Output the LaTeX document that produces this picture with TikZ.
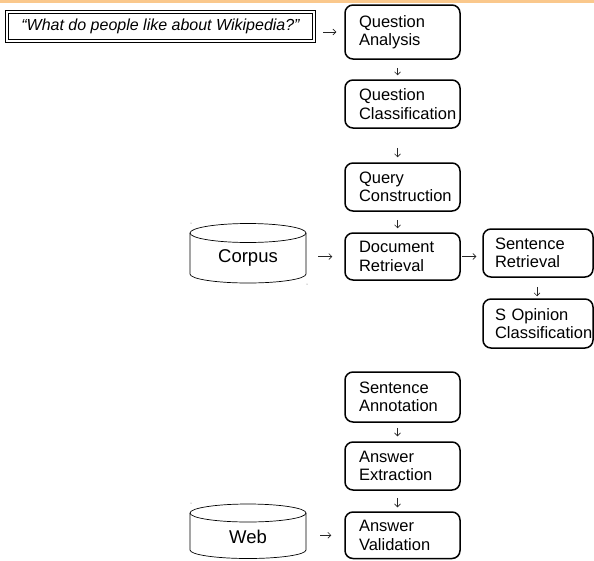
\documentclass[tikz,border=0pt]{standalone}
\usepackage{fontspec}
\setmainfont{Liberation Sans}
\usetikzlibrary{arrows.meta}
\definecolor{bandorange}{RGB}{250,200,140}
\tikzset{
  procbox/.style={draw, line width=1.5pt, rounded corners=8pt, minimum width=115pt,
    inner xsep=14pt, inner ysep=2pt, text width=87pt, align=left,
    font=\fontsize{16.5}{18.5}\selectfont},
  sidebox/.style={procbox, minimum width=110pt, inner xsep=12pt, text width=86pt},
  quotebox/.style={draw, line width=0.8pt, double=white, double distance=2pt,
    minimum width=307pt, minimum height=29pt, inner sep=0pt,
    font=\fontsize{16}{18}\selectfont\itshape},
  dblabel/.style={minimum width=116pt, inner sep=0pt, font=\fontsize{18.5}{20}\selectfont},
  dbline/.style={line width=0.7pt},
  conn/.style={line width=0.6pt, black!85, -{Straight Barb[length=3pt,width=6pt]}},
  speck/.style={fill=black!60}
}
\begin{document}
\begin{tikzpicture}[x=1pt,y=-1pt]
\useasboundingbox (0,0) rectangle (594,560);
\fill[bandorange] (0,0) rectangle (594,3.3);

% question
\node[quotebox] (q) at (160.5,26.5) {``What do people like about Wikipedia?''};

% main column
\node[procbox, minimum height=54pt] (qa) at (402.5,32) {Question\\Analysis};
\node[procbox, minimum height=48pt] (qc) at (402.5,104) {Question\\Classification};
\node[procbox, minimum height=48pt] (qcon) at (402.5,187) {Query\\Construction};
\node[procbox, minimum height=47pt] (dr) at (402.5,256.5) {Document\\Retrieval};
\node[sidebox, minimum height=48pt] (sr) at (538,253) {Sentence\\Retrieval};
\node[sidebox, minimum height=49pt] (soc) at (538,323.5) {S Opinion\\Classification};
\node[procbox, minimum height=50pt] (sa) at (402.5,397) {Sentence\\Annotation};
\node[procbox, minimum height=48pt] (ae) at (402.5,466) {Answer\\Extraction};
\node[procbox, minimum height=46.5pt] (av) at (402.5,535.25) {Answer\\Validation};

% corpus cylinder
\draw[dbline] (190,233) -- (190,274) arc[start angle=180, end angle=360, x radius=58pt, y radius=9pt] -- (306,233);
\draw[dbline] (248,233) ellipse [x radius=58pt, y radius=9.5pt];
\node[dblabel] (corpus) at (248,258) {Corpus};

% web cylinder
\draw[dbline] (190,513) -- (190,550) arc[start angle=180, end angle=360, x radius=58pt, y radius=8.5pt] -- (306,513);
\draw[dbline] (248,513) ellipse [x radius=58pt, y radius=9pt];
\node[dblabel] (web) at (248,537) {Web};

% tiny specks
\fill[speck] (191,223) circle (0.5pt);
\fill[speck] (307,284) circle (0.5pt);
\fill[speck] (191,503) circle (0.5pt);

% connectors
\draw[conn, shorten <=9pt, shorten >=8pt] (q.east |- qa.west) -- (qa.west);
\draw[conn, shorten <=8pt, shorten >=4pt] ([xshift=-5pt]qa.south) -- ([xshift=-5pt]qc.north);
\draw[conn, shorten <=19pt, shorten >=5pt] ([xshift=-5pt]qc.south) -- ([xshift=-5pt]qcon.north);
\draw[conn, shorten <=8pt, shorten >=4pt] ([xshift=-5pt]qcon.south) -- ([xshift=-5pt]dr.north);
\draw[conn, shorten <=12pt, shorten >=12pt] (corpus.east |- dr.west) -- (dr.west);
\draw[conn, shorten <=1pt, shorten >=6pt] (dr.east) -- (sr.west |- dr.east);
\draw[conn, shorten <=9pt, shorten >=2pt] ([xshift=-1pt]sr.south) -- ([xshift=-1pt]soc.north);
\draw[conn, shorten <=5pt, shorten >=5pt] ([xshift=-5pt]sa.south) -- ([xshift=-5pt]ae.north);
\draw[conn, shorten <=7pt, shorten >=4pt] ([xshift=-5pt]ae.south) -- ([xshift=-5pt]av.north);
\draw[conn, shorten <=14pt, shorten >=13pt] (web.east |- av.west) -- (av.west);
\end{tikzpicture}
\end{document}
